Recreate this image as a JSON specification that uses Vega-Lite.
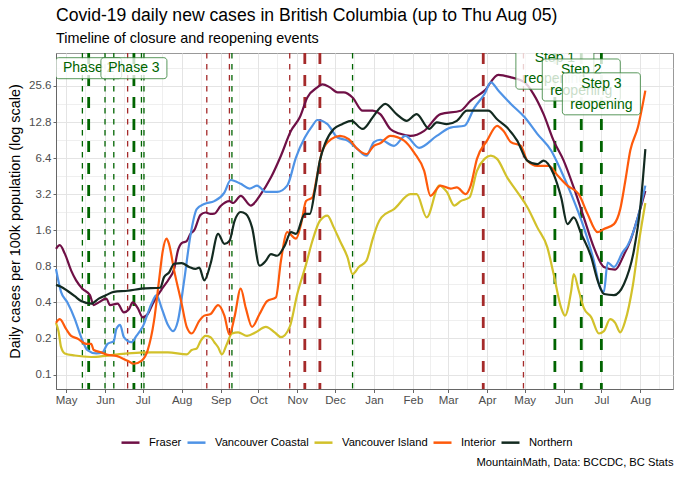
{
"$schema": "https://vega.github.io/schema/vega-lite/v6.json",
"padding": {"left": 6, "right": 8, "top": 6, "bottom": 10},
"background": "white",
"config": {
  "font": "Liberation Sans",
  "view": {"stroke": "#999999", "strokeWidth": 1},
  "axis": {"labelColor": "#4d4d4d", "labelFontSize": 11.5, "gridColor": "#e4e4e4", "domainColor": "#777777", "tickColor": "#777777"}
},
"title": {"text": "MountainMath, Data: BCCDC, BC Stats", "orient": "bottom", "anchor": "end", "fontSize": 11.2, "fontWeight": "normal", "color": "black", "offset": 9},
"datasets": {
  "events": [
    {"date": "2020-05-14", "type": "reopening", "size": "minor"},
    {"date": "2020-05-19", "type": "reopening", "size": "major"},
    {"date": "2020-06-01", "type": "reopening", "size": "minor"},
    {"date": "2020-06-08", "type": "reopening", "size": "minor"},
    {"date": "2020-06-19", "type": "closure", "size": "minor"},
    {"date": "2020-06-24", "type": "reopening", "size": "major"},
    {"date": "2020-06-30", "type": "reopening", "size": "minor"},
    {"date": "2020-07-02", "type": "reopening", "size": "minor"},
    {"date": "2020-08-21", "type": "closure", "size": "minor"},
    {"date": "2020-09-08", "type": "closure", "size": "minor"},
    {"date": "2020-09-10", "type": "reopening", "size": "minor"},
    {"date": "2020-10-26", "type": "closure", "size": "minor"},
    {"date": "2020-11-07", "type": "closure", "size": "major"},
    {"date": "2020-11-19", "type": "closure", "size": "major"},
    {"date": "2020-12-15", "type": "reopening", "size": "minor"},
    {"date": "2021-03-29", "type": "closure", "size": "major"},
    {"date": "2021-04-30", "type": "closure", "size": "minor"},
    {"date": "2021-05-25", "type": "reopening", "size": "major"},
    {"date": "2021-06-15", "type": "reopening", "size": "major"},
    {"date": "2021-07-01", "type": "reopening", "size": "major"}
  ],
  "labels": [
    {"id": 1, "date": "2020-05-19", "value": 36, "label": "Phase 2"},
    {"id": 2, "date": "2020-06-24", "value": 36, "label": "Phase 3"},
    {"id": 3, "date": "2021-05-25", "value": 36, "label": "Step 1\nreopening"},
    {"id": 4, "date": "2021-06-15", "value": 28.7, "label": "Step 2\nreopening"},
    {"id": 5, "date": "2021-07-01", "value": 22, "label": "Step 3\nreopening"}
  ],
  "cases": [
    {"date": "2020-04-23", "region": "Fraser", "value": 1.12},
    {"date": "2020-04-26", "region": "Fraser", "value": 1.2},
    {"date": "2020-04-30", "region": "Fraser", "value": 1.02},
    {"date": "2020-05-05", "region": "Fraser", "value": 0.74},
    {"date": "2020-05-09", "region": "Fraser", "value": 0.61},
    {"date": "2020-05-14", "region": "Fraser", "value": 0.52},
    {"date": "2020-05-20", "region": "Fraser", "value": 0.46},
    {"date": "2020-05-23", "region": "Fraser", "value": 0.38},
    {"date": "2020-05-27", "region": "Fraser", "value": 0.40},
    {"date": "2020-06-02", "region": "Fraser", "value": 0.43},
    {"date": "2020-06-05", "region": "Fraser", "value": 0.38},
    {"date": "2020-06-11", "region": "Fraser", "value": 0.39},
    {"date": "2020-06-16", "region": "Fraser", "value": 0.33},
    {"date": "2020-06-20", "region": "Fraser", "value": 0.35},
    {"date": "2020-06-23", "region": "Fraser", "value": 0.40},
    {"date": "2020-06-27", "region": "Fraser", "value": 0.36},
    {"date": "2020-07-01", "region": "Fraser", "value": 0.30},
    {"date": "2020-07-05", "region": "Fraser", "value": 0.32},
    {"date": "2020-07-09", "region": "Fraser", "value": 0.39},
    {"date": "2020-07-13", "region": "Fraser", "value": 0.46},
    {"date": "2020-07-17", "region": "Fraser", "value": 0.53},
    {"date": "2020-07-22", "region": "Fraser", "value": 0.63},
    {"date": "2020-07-26", "region": "Fraser", "value": 0.76},
    {"date": "2020-07-29", "region": "Fraser", "value": 1.08},
    {"date": "2020-08-01", "region": "Fraser", "value": 1.25},
    {"date": "2020-08-05", "region": "Fraser", "value": 1.3},
    {"date": "2020-08-08", "region": "Fraser", "value": 1.49},
    {"date": "2020-08-11", "region": "Fraser", "value": 1.6},
    {"date": "2020-08-16", "region": "Fraser", "value": 2.15},
    {"date": "2020-08-20", "region": "Fraser", "value": 2.25},
    {"date": "2020-08-24", "region": "Fraser", "value": 2.19},
    {"date": "2020-08-27", "region": "Fraser", "value": 2.2},
    {"date": "2020-09-01", "region": "Fraser", "value": 2.55},
    {"date": "2020-09-08", "region": "Fraser", "value": 2.8},
    {"date": "2020-09-11", "region": "Fraser", "value": 2.7},
    {"date": "2020-09-17", "region": "Fraser", "value": 3.1},
    {"date": "2020-09-25", "region": "Fraser", "value": 2.57},
    {"date": "2020-10-03", "region": "Fraser", "value": 3.2},
    {"date": "2020-10-11", "region": "Fraser", "value": 4.4},
    {"date": "2020-10-19", "region": "Fraser", "value": 6.7},
    {"date": "2020-10-27", "region": "Fraser", "value": 10.8},
    {"date": "2020-11-03", "region": "Fraser", "value": 14.0},
    {"date": "2020-11-09", "region": "Fraser", "value": 20.5},
    {"date": "2020-11-17", "region": "Fraser", "value": 24.9},
    {"date": "2020-11-21", "region": "Fraser", "value": 26.4},
    {"date": "2020-11-27", "region": "Fraser", "value": 24.9},
    {"date": "2020-12-03", "region": "Fraser", "value": 22.6},
    {"date": "2020-12-08", "region": "Fraser", "value": 22.6},
    {"date": "2020-12-15", "region": "Fraser", "value": 20.5},
    {"date": "2020-12-23", "region": "Fraser", "value": 15.9},
    {"date": "2020-12-31", "region": "Fraser", "value": 15.9},
    {"date": "2021-01-06", "region": "Fraser", "value": 14.9},
    {"date": "2021-01-14", "region": "Fraser", "value": 11.2},
    {"date": "2021-01-22", "region": "Fraser", "value": 10.2},
    {"date": "2021-01-30", "region": "Fraser", "value": 9.8},
    {"date": "2021-02-10", "region": "Fraser", "value": 10.8},
    {"date": "2021-02-23", "region": "Fraser", "value": 14.9},
    {"date": "2021-03-11", "region": "Fraser", "value": 15.9},
    {"date": "2021-03-19", "region": "Fraser", "value": 19.3},
    {"date": "2021-03-30", "region": "Fraser", "value": 23.4},
    {"date": "2021-04-10", "region": "Fraser", "value": 31.7},
    {"date": "2021-04-20", "region": "Fraser", "value": 30.2},
    {"date": "2021-05-01", "region": "Fraser", "value": 27.4},
    {"date": "2021-05-08", "region": "Fraser", "value": 21.9},
    {"date": "2021-05-16", "region": "Fraser", "value": 14.9},
    {"date": "2021-05-24", "region": "Fraser", "value": 8.95},
    {"date": "2021-06-01", "region": "Fraser", "value": 6.1},
    {"date": "2021-06-09", "region": "Fraser", "value": 3.64},
    {"date": "2021-06-17", "region": "Fraser", "value": 2.05},
    {"date": "2021-06-25", "region": "Fraser", "value": 1.15},
    {"date": "2021-07-03", "region": "Fraser", "value": 0.79},
    {"date": "2021-07-12", "region": "Fraser", "value": 0.75},
    {"date": "2021-07-19", "region": "Fraser", "value": 1.0},
    {"date": "2021-07-24", "region": "Fraser", "value": 1.3},
    {"date": "2021-07-30", "region": "Fraser", "value": 2.05},
    {"date": "2021-08-05", "region": "Fraser", "value": 3.4},

    {"date": "2020-04-23", "region": "Vancouver Coastal", "value": 0.76},
    {"date": "2020-04-27", "region": "Vancouver Coastal", "value": 0.49},
    {"date": "2020-05-02", "region": "Vancouver Coastal", "value": 0.40},
    {"date": "2020-05-08", "region": "Vancouver Coastal", "value": 0.29},
    {"date": "2020-05-13", "region": "Vancouver Coastal", "value": 0.205},
    {"date": "2020-05-18", "region": "Vancouver Coastal", "value": 0.16},
    {"date": "2020-05-25", "region": "Vancouver Coastal", "value": 0.15},
    {"date": "2020-05-30", "region": "Vancouver Coastal", "value": 0.153},
    {"date": "2020-06-03", "region": "Vancouver Coastal", "value": 0.18},
    {"date": "2020-06-08", "region": "Vancouver Coastal", "value": 0.19},
    {"date": "2020-06-10", "region": "Vancouver Coastal", "value": 0.24},
    {"date": "2020-06-13", "region": "Vancouver Coastal", "value": 0.26},
    {"date": "2020-06-16", "region": "Vancouver Coastal", "value": 0.205},
    {"date": "2020-06-22", "region": "Vancouver Coastal", "value": 0.186},
    {"date": "2020-06-26", "region": "Vancouver Coastal", "value": 0.21},
    {"date": "2020-07-01", "region": "Vancouver Coastal", "value": 0.25},
    {"date": "2020-07-08", "region": "Vancouver Coastal", "value": 0.39},
    {"date": "2020-07-12", "region": "Vancouver Coastal", "value": 0.46},
    {"date": "2020-07-16", "region": "Vancouver Coastal", "value": 0.36},
    {"date": "2020-07-21", "region": "Vancouver Coastal", "value": 0.26},
    {"date": "2020-07-25", "region": "Vancouver Coastal", "value": 0.23},
    {"date": "2020-07-29", "region": "Vancouver Coastal", "value": 0.28},
    {"date": "2020-08-03", "region": "Vancouver Coastal", "value": 0.61},
    {"date": "2020-08-08", "region": "Vancouver Coastal", "value": 1.45},
    {"date": "2020-08-13", "region": "Vancouver Coastal", "value": 2.4},
    {"date": "2020-08-19", "region": "Vancouver Coastal", "value": 2.65},
    {"date": "2020-08-27", "region": "Vancouver Coastal", "value": 2.8},
    {"date": "2020-09-04", "region": "Vancouver Coastal", "value": 3.3},
    {"date": "2020-09-09", "region": "Vancouver Coastal", "value": 4.2},
    {"date": "2020-09-17", "region": "Vancouver Coastal", "value": 3.9},
    {"date": "2020-09-24", "region": "Vancouver Coastal", "value": 3.56},
    {"date": "2020-09-30", "region": "Vancouver Coastal", "value": 3.77},
    {"date": "2020-10-07", "region": "Vancouver Coastal", "value": 3.34},
    {"date": "2020-10-16", "region": "Vancouver Coastal", "value": 3.34},
    {"date": "2020-10-24", "region": "Vancouver Coastal", "value": 3.77},
    {"date": "2020-10-31", "region": "Vancouver Coastal", "value": 6.5},
    {"date": "2020-11-07", "region": "Vancouver Coastal", "value": 9.5},
    {"date": "2020-11-13", "region": "Vancouver Coastal", "value": 11.9},
    {"date": "2020-11-17", "region": "Vancouver Coastal", "value": 13.3},
    {"date": "2020-11-25", "region": "Vancouver Coastal", "value": 12.3},
    {"date": "2020-12-03", "region": "Vancouver Coastal", "value": 9.5},
    {"date": "2020-12-11", "region": "Vancouver Coastal", "value": 8.95},
    {"date": "2020-12-19", "region": "Vancouver Coastal", "value": 7.6},
    {"date": "2020-12-26", "region": "Vancouver Coastal", "value": 6.7},
    {"date": "2021-01-01", "region": "Vancouver Coastal", "value": 8.7},
    {"date": "2021-01-06", "region": "Vancouver Coastal", "value": 9.1},
    {"date": "2021-01-17", "region": "Vancouver Coastal", "value": 8.1},
    {"date": "2021-01-26", "region": "Vancouver Coastal", "value": 9.8},
    {"date": "2021-02-06", "region": "Vancouver Coastal", "value": 7.8},
    {"date": "2021-02-20", "region": "Vancouver Coastal", "value": 9.8},
    {"date": "2021-03-03", "region": "Vancouver Coastal", "value": 11.5},
    {"date": "2021-03-14", "region": "Vancouver Coastal", "value": 11.9},
    {"date": "2021-03-22", "region": "Vancouver Coastal", "value": 16.9},
    {"date": "2021-03-30", "region": "Vancouver Coastal", "value": 21.9},
    {"date": "2021-04-04", "region": "Vancouver Coastal", "value": 27.4},
    {"date": "2021-04-10", "region": "Vancouver Coastal", "value": 23.4},
    {"date": "2021-04-20", "region": "Vancouver Coastal", "value": 18.1},
    {"date": "2021-05-01", "region": "Vancouver Coastal", "value": 14.0},
    {"date": "2021-05-11", "region": "Vancouver Coastal", "value": 10.2},
    {"date": "2021-05-22", "region": "Vancouver Coastal", "value": 7.4},
    {"date": "2021-05-30", "region": "Vancouver Coastal", "value": 5.0},
    {"date": "2021-06-07", "region": "Vancouver Coastal", "value": 3.2},
    {"date": "2021-06-17", "region": "Vancouver Coastal", "value": 1.69},
    {"date": "2021-06-25", "region": "Vancouver Coastal", "value": 0.89},
    {"date": "2021-06-30", "region": "Vancouver Coastal", "value": 0.53},
    {"date": "2021-07-03", "region": "Vancouver Coastal", "value": 0.49},
    {"date": "2021-07-06", "region": "Vancouver Coastal", "value": 0.86},
    {"date": "2021-07-11", "region": "Vancouver Coastal", "value": 0.79},
    {"date": "2021-07-18", "region": "Vancouver Coastal", "value": 1.05},
    {"date": "2021-07-22", "region": "Vancouver Coastal", "value": 1.2},
    {"date": "2021-07-30", "region": "Vancouver Coastal", "value": 2.05},
    {"date": "2021-08-05", "region": "Vancouver Coastal", "value": 3.77},

    {"date": "2020-04-23", "region": "Vancouver Island", "value": 0.27},
    {"date": "2020-04-25", "region": "Vancouver Island", "value": 0.23},
    {"date": "2020-04-27", "region": "Vancouver Island", "value": 0.17},
    {"date": "2020-04-30", "region": "Vancouver Island", "value": 0.15},
    {"date": "2020-05-08", "region": "Vancouver Island", "value": 0.144},
    {"date": "2020-05-21", "region": "Vancouver Island", "value": 0.14},
    {"date": "2020-06-03", "region": "Vancouver Island", "value": 0.144},
    {"date": "2020-06-19", "region": "Vancouver Island", "value": 0.15},
    {"date": "2020-07-08", "region": "Vancouver Island", "value": 0.153},
    {"date": "2020-07-21", "region": "Vancouver Island", "value": 0.153},
    {"date": "2020-08-05", "region": "Vancouver Island", "value": 0.147},
    {"date": "2020-08-09", "region": "Vancouver Island", "value": 0.16},
    {"date": "2020-08-13", "region": "Vancouver Island", "value": 0.165},
    {"date": "2020-08-16", "region": "Vancouver Island", "value": 0.19},
    {"date": "2020-08-20", "region": "Vancouver Island", "value": 0.21},
    {"date": "2020-08-24", "region": "Vancouver Island", "value": 0.205},
    {"date": "2020-08-27", "region": "Vancouver Island", "value": 0.186},
    {"date": "2020-08-30", "region": "Vancouver Island", "value": 0.169},
    {"date": "2020-09-02", "region": "Vancouver Island", "value": 0.147},
    {"date": "2020-09-06", "region": "Vancouver Island", "value": 0.18},
    {"date": "2020-09-10", "region": "Vancouver Island", "value": 0.22},
    {"date": "2020-09-15", "region": "Vancouver Island", "value": 0.225},
    {"date": "2020-09-22", "region": "Vancouver Island", "value": 0.21},
    {"date": "2020-09-29", "region": "Vancouver Island", "value": 0.225},
    {"date": "2020-10-07", "region": "Vancouver Island", "value": 0.25},
    {"date": "2020-10-14", "region": "Vancouver Island", "value": 0.225},
    {"date": "2020-10-19", "region": "Vancouver Island", "value": 0.205},
    {"date": "2020-10-26", "region": "Vancouver Island", "value": 0.25},
    {"date": "2020-11-01", "region": "Vancouver Island", "value": 0.47},
    {"date": "2020-11-08", "region": "Vancouver Island", "value": 0.83},
    {"date": "2020-11-13", "region": "Vancouver Island", "value": 1.3},
    {"date": "2020-11-19", "region": "Vancouver Island", "value": 1.92},
    {"date": "2020-11-25", "region": "Vancouver Island", "value": 2.12},
    {"date": "2020-11-30", "region": "Vancouver Island", "value": 1.69},
    {"date": "2020-12-05", "region": "Vancouver Island", "value": 1.3},
    {"date": "2020-12-11", "region": "Vancouver Island", "value": 0.95},
    {"date": "2020-12-15", "region": "Vancouver Island", "value": 0.69},
    {"date": "2020-12-20", "region": "Vancouver Island", "value": 0.79},
    {"date": "2020-12-26", "region": "Vancouver Island", "value": 0.89},
    {"date": "2020-12-31", "region": "Vancouver Island", "value": 1.35},
    {"date": "2021-01-04", "region": "Vancouver Island", "value": 1.8},
    {"date": "2021-01-07", "region": "Vancouver Island", "value": 2.05},
    {"date": "2021-01-17", "region": "Vancouver Island", "value": 2.4},
    {"date": "2021-01-30", "region": "Vancouver Island", "value": 3.2},
    {"date": "2021-02-04", "region": "Vancouver Island", "value": 3.2},
    {"date": "2021-02-12", "region": "Vancouver Island", "value": 2.05},
    {"date": "2021-02-22", "region": "Vancouver Island", "value": 3.77},
    {"date": "2021-02-28", "region": "Vancouver Island", "value": 3.34},
    {"date": "2021-03-06", "region": "Vancouver Island", "value": 2.57},
    {"date": "2021-03-11", "region": "Vancouver Island", "value": 2.8},
    {"date": "2021-03-18", "region": "Vancouver Island", "value": 3.0},
    {"date": "2021-03-24", "region": "Vancouver Island", "value": 5.0},
    {"date": "2021-03-30", "region": "Vancouver Island", "value": 6.3},
    {"date": "2021-04-04", "region": "Vancouver Island", "value": 6.7},
    {"date": "2021-04-09", "region": "Vancouver Island", "value": 6.3},
    {"date": "2021-04-17", "region": "Vancouver Island", "value": 4.42},
    {"date": "2021-04-25", "region": "Vancouver Island", "value": 3.34},
    {"date": "2021-05-03", "region": "Vancouver Island", "value": 2.5},
    {"date": "2021-05-11", "region": "Vancouver Island", "value": 1.69},
    {"date": "2021-05-19", "region": "Vancouver Island", "value": 1.15},
    {"date": "2021-05-24", "region": "Vancouver Island", "value": 0.69},
    {"date": "2021-05-30", "region": "Vancouver Island", "value": 0.36},
    {"date": "2021-06-02", "region": "Vancouver Island", "value": 0.31},
    {"date": "2021-06-07", "region": "Vancouver Island", "value": 0.5},
    {"date": "2021-06-09", "region": "Vancouver Island", "value": 0.69},
    {"date": "2021-06-13", "region": "Vancouver Island", "value": 0.5},
    {"date": "2021-06-17", "region": "Vancouver Island", "value": 0.36},
    {"date": "2021-06-23", "region": "Vancouver Island", "value": 0.3},
    {"date": "2021-06-29", "region": "Vancouver Island", "value": 0.22},
    {"date": "2021-07-03", "region": "Vancouver Island", "value": 0.23},
    {"date": "2021-07-08", "region": "Vancouver Island", "value": 0.29},
    {"date": "2021-07-12", "region": "Vancouver Island", "value": 0.27},
    {"date": "2021-07-16", "region": "Vancouver Island", "value": 0.225},
    {"date": "2021-07-20", "region": "Vancouver Island", "value": 0.28},
    {"date": "2021-07-26", "region": "Vancouver Island", "value": 0.55},
    {"date": "2021-07-31", "region": "Vancouver Island", "value": 1.3},
    {"date": "2021-08-05", "region": "Vancouver Island", "value": 2.7},

    {"date": "2020-04-23", "region": "Interior", "value": 0.27},
    {"date": "2020-04-26", "region": "Interior", "value": 0.29},
    {"date": "2020-05-01", "region": "Interior", "value": 0.24},
    {"date": "2020-05-05", "region": "Interior", "value": 0.21},
    {"date": "2020-05-10", "region": "Interior", "value": 0.20},
    {"date": "2020-05-17", "region": "Interior", "value": 0.18},
    {"date": "2020-05-21", "region": "Interior", "value": 0.18},
    {"date": "2020-05-23", "region": "Interior", "value": 0.16},
    {"date": "2020-05-29", "region": "Interior", "value": 0.153},
    {"date": "2020-06-03", "region": "Interior", "value": 0.146},
    {"date": "2020-06-10", "region": "Interior", "value": 0.143},
    {"date": "2020-06-19", "region": "Interior", "value": 0.13},
    {"date": "2020-06-24", "region": "Interior", "value": 0.123},
    {"date": "2020-06-30", "region": "Interior", "value": 0.13},
    {"date": "2020-07-05", "region": "Interior", "value": 0.16},
    {"date": "2020-07-10", "region": "Interior", "value": 0.28},
    {"date": "2020-07-14", "region": "Interior", "value": 0.61},
    {"date": "2020-07-17", "region": "Interior", "value": 1.08},
    {"date": "2020-07-20", "region": "Interior", "value": 1.36},
    {"date": "2020-07-22", "region": "Interior", "value": 1.22},
    {"date": "2020-07-26", "region": "Interior", "value": 0.74},
    {"date": "2020-08-01", "region": "Interior", "value": 0.39},
    {"date": "2020-08-05", "region": "Interior", "value": 0.25},
    {"date": "2020-08-09", "region": "Interior", "value": 0.22},
    {"date": "2020-08-15", "region": "Interior", "value": 0.28},
    {"date": "2020-08-19", "region": "Interior", "value": 0.31},
    {"date": "2020-08-24", "region": "Interior", "value": 0.32},
    {"date": "2020-08-30", "region": "Interior", "value": 0.38},
    {"date": "2020-09-04", "region": "Interior", "value": 0.31},
    {"date": "2020-09-08", "region": "Interior", "value": 0.215},
    {"date": "2020-09-12", "region": "Interior", "value": 0.30},
    {"date": "2020-09-17", "region": "Interior", "value": 0.52},
    {"date": "2020-09-21", "region": "Interior", "value": 0.36},
    {"date": "2020-09-26", "region": "Interior", "value": 0.25},
    {"date": "2020-10-02", "region": "Interior", "value": 0.32},
    {"date": "2020-10-08", "region": "Interior", "value": 0.41},
    {"date": "2020-10-15", "region": "Interior", "value": 0.44},
    {"date": "2020-10-19", "region": "Interior", "value": 0.89},
    {"date": "2020-10-24", "region": "Interior", "value": 1.54},
    {"date": "2020-10-31", "region": "Interior", "value": 1.36},
    {"date": "2020-11-04", "region": "Interior", "value": 1.8},
    {"date": "2020-11-08", "region": "Interior", "value": 2.8},
    {"date": "2020-11-13", "region": "Interior", "value": 3.0},
    {"date": "2020-11-17", "region": "Interior", "value": 4.7},
    {"date": "2020-11-21", "region": "Interior", "value": 7.4},
    {"date": "2020-11-28", "region": "Interior", "value": 9.2},
    {"date": "2020-12-05", "region": "Interior", "value": 9.8},
    {"date": "2020-12-12", "region": "Interior", "value": 9.2},
    {"date": "2020-12-19", "region": "Interior", "value": 7.6},
    {"date": "2020-12-26", "region": "Interior", "value": 6.9},
    {"date": "2021-01-01", "region": "Interior", "value": 8.1},
    {"date": "2021-01-06", "region": "Interior", "value": 8.5},
    {"date": "2021-01-14", "region": "Interior", "value": 9.8},
    {"date": "2021-01-25", "region": "Interior", "value": 8.95},
    {"date": "2021-02-02", "region": "Interior", "value": 7.1},
    {"date": "2021-02-10", "region": "Interior", "value": 5.0},
    {"date": "2021-02-15", "region": "Interior", "value": 3.1},
    {"date": "2021-02-23", "region": "Interior", "value": 3.77},
    {"date": "2021-03-03", "region": "Interior", "value": 3.56},
    {"date": "2021-03-08", "region": "Interior", "value": 3.64},
    {"date": "2021-03-15", "region": "Interior", "value": 3.2},
    {"date": "2021-03-19", "region": "Interior", "value": 3.77},
    {"date": "2021-03-24", "region": "Interior", "value": 6.3},
    {"date": "2021-04-01", "region": "Interior", "value": 8.95},
    {"date": "2021-04-09", "region": "Interior", "value": 11.9},
    {"date": "2021-04-14", "region": "Interior", "value": 10.8},
    {"date": "2021-04-20", "region": "Interior", "value": 8.7},
    {"date": "2021-04-28", "region": "Interior", "value": 8.1},
    {"date": "2021-05-03", "region": "Interior", "value": 6.1},
    {"date": "2021-05-11", "region": "Interior", "value": 5.5},
    {"date": "2021-05-20", "region": "Interior", "value": 5.5},
    {"date": "2021-05-27", "region": "Interior", "value": 4.6},
    {"date": "2021-06-04", "region": "Interior", "value": 3.77},
    {"date": "2021-06-13", "region": "Interior", "value": 3.2},
    {"date": "2021-06-20", "region": "Interior", "value": 2.19},
    {"date": "2021-06-28", "region": "Interior", "value": 1.54},
    {"date": "2021-07-03", "region": "Interior", "value": 1.64},
    {"date": "2021-07-11", "region": "Interior", "value": 1.8},
    {"date": "2021-07-16", "region": "Interior", "value": 2.4},
    {"date": "2021-07-20", "region": "Interior", "value": 4.1},
    {"date": "2021-07-24", "region": "Interior", "value": 7.4},
    {"date": "2021-07-30", "region": "Interior", "value": 11.5},
    {"date": "2021-08-05", "region": "Interior", "value": 23.4},

    {"date": "2020-04-23", "region": "Northern", "value": 0.56},
    {"date": "2020-04-27", "region": "Northern", "value": 0.54},
    {"date": "2020-05-02", "region": "Northern", "value": 0.50},
    {"date": "2020-05-08", "region": "Northern", "value": 0.45},
    {"date": "2020-05-13", "region": "Northern", "value": 0.41},
    {"date": "2020-05-21", "region": "Northern", "value": 0.39},
    {"date": "2020-05-27", "region": "Northern", "value": 0.43},
    {"date": "2020-06-02", "region": "Northern", "value": 0.46},
    {"date": "2020-06-08", "region": "Northern", "value": 0.49},
    {"date": "2020-06-19", "region": "Northern", "value": 0.50},
    {"date": "2020-06-30", "region": "Northern", "value": 0.52},
    {"date": "2020-07-15", "region": "Northern", "value": 0.53},
    {"date": "2020-07-18", "region": "Northern", "value": 0.65},
    {"date": "2020-07-22", "region": "Northern", "value": 0.71},
    {"date": "2020-07-26", "region": "Northern", "value": 0.84},
    {"date": "2020-08-01", "region": "Northern", "value": 0.85},
    {"date": "2020-08-07", "region": "Northern", "value": 0.79},
    {"date": "2020-08-12", "region": "Northern", "value": 0.76},
    {"date": "2020-08-15", "region": "Northern", "value": 0.78},
    {"date": "2020-08-19", "region": "Northern", "value": 0.61},
    {"date": "2020-08-24", "region": "Northern", "value": 0.84},
    {"date": "2020-08-30", "region": "Northern", "value": 1.49},
    {"date": "2020-09-04", "region": "Northern", "value": 1.23},
    {"date": "2020-09-08", "region": "Northern", "value": 1.30},
    {"date": "2020-09-12", "region": "Northern", "value": 1.9},
    {"date": "2020-09-17", "region": "Northern", "value": 2.27},
    {"date": "2020-09-21", "region": "Northern", "value": 2.19},
    {"date": "2020-09-26", "region": "Northern", "value": 1.69},
    {"date": "2020-10-02", "region": "Northern", "value": 0.81},
    {"date": "2020-10-07", "region": "Northern", "value": 0.89},
    {"date": "2020-10-11", "region": "Northern", "value": 1.01},
    {"date": "2020-10-16", "region": "Northern", "value": 0.98},
    {"date": "2020-10-22", "region": "Northern", "value": 1.19},
    {"date": "2020-10-27", "region": "Northern", "value": 1.54},
    {"date": "2020-10-31", "region": "Northern", "value": 1.49},
    {"date": "2020-11-07", "region": "Northern", "value": 2.19},
    {"date": "2020-11-11", "region": "Northern", "value": 2.19},
    {"date": "2020-11-15", "region": "Northern", "value": 3.43},
    {"date": "2020-11-19", "region": "Northern", "value": 6.1},
    {"date": "2020-11-23", "region": "Northern", "value": 8.4},
    {"date": "2020-11-30", "region": "Northern", "value": 11.2},
    {"date": "2020-12-07", "region": "Northern", "value": 12.3},
    {"date": "2020-12-14", "region": "Northern", "value": 13.1},
    {"date": "2020-12-23", "region": "Northern", "value": 11.2},
    {"date": "2020-12-31", "region": "Northern", "value": 14.0},
    {"date": "2021-01-06", "region": "Northern", "value": 16.9},
    {"date": "2021-01-10", "region": "Northern", "value": 18.1},
    {"date": "2021-01-19", "region": "Northern", "value": 14.9},
    {"date": "2021-01-27", "region": "Northern", "value": 13.1},
    {"date": "2021-02-04", "region": "Northern", "value": 14.9},
    {"date": "2021-02-14", "region": "Northern", "value": 11.2},
    {"date": "2021-02-20", "region": "Northern", "value": 12.7},
    {"date": "2021-02-28", "region": "Northern", "value": 12.3},
    {"date": "2021-03-08", "region": "Northern", "value": 13.1},
    {"date": "2021-03-16", "region": "Northern", "value": 15.9},
    {"date": "2021-03-27", "region": "Northern", "value": 15.9},
    {"date": "2021-04-02", "region": "Northern", "value": 15.9},
    {"date": "2021-04-09", "region": "Northern", "value": 13.5},
    {"date": "2021-04-17", "region": "Northern", "value": 11.5},
    {"date": "2021-04-25", "region": "Northern", "value": 8.95},
    {"date": "2021-05-03", "region": "Northern", "value": 6.1},
    {"date": "2021-05-11", "region": "Northern", "value": 5.7},
    {"date": "2021-05-16", "region": "Northern", "value": 6.1},
    {"date": "2021-05-24", "region": "Northern", "value": 4.7},
    {"date": "2021-05-30", "region": "Northern", "value": 3.0},
    {"date": "2021-06-04", "region": "Northern", "value": 1.8},
    {"date": "2021-06-09", "region": "Northern", "value": 2.05},
    {"date": "2021-06-15", "region": "Northern", "value": 1.49},
    {"date": "2021-06-23", "region": "Northern", "value": 0.95},
    {"date": "2021-06-28", "region": "Northern", "value": 0.61},
    {"date": "2021-07-03", "region": "Northern", "value": 0.47},
    {"date": "2021-07-11", "region": "Northern", "value": 0.46},
    {"date": "2021-07-19", "region": "Northern", "value": 0.57},
    {"date": "2021-07-27", "region": "Northern", "value": 1.1},
    {"date": "2021-08-01", "region": "Northern", "value": 2.5},
    {"date": "2021-08-05", "region": "Northern", "value": 7.6}
  ]
},
"vconcat": [{
  "title": {"text": "Covid-19 daily new cases in British Columbia (up to Thu Aug 05)", "subtitle": "Timeline of closure and reopening events", "anchor": "start", "frame": "group", "fontSize": 17.6, "fontWeight": "normal", "color": "black", "subtitleFontSize": 14.4, "subtitleColor": "black", "subtitlePadding": 7.7, "offset": 6},
  "width": 617,
  "height": 336,
  "encoding": {
    "x": {"field": "date", "type": "temporal",
      "scale": {"type": "utc", "domain": [{"year": 2020, "month": 4, "date": 23, "utc": true}, {"year": 2021, "month": 8, "date": 27, "utc": true}]},
      "axis": {"title": null, "grid": true,
        "values": [
          {"year": 2020, "month": 5, "date": 1, "utc": true}, {"year": 2020, "month": 5, "date": 16, "utc": true},
          {"year": 2020, "month": 6, "date": 1, "utc": true}, {"year": 2020, "month": 6, "date": 16, "utc": true},
          {"year": 2020, "month": 7, "date": 1, "utc": true}, {"year": 2020, "month": 7, "date": 16, "utc": true},
          {"year": 2020, "month": 8, "date": 1, "utc": true}, {"year": 2020, "month": 8, "date": 16, "utc": true},
          {"year": 2020, "month": 9, "date": 1, "utc": true}, {"year": 2020, "month": 9, "date": 16, "utc": true},
          {"year": 2020, "month": 10, "date": 1, "utc": true}, {"year": 2020, "month": 10, "date": 16, "utc": true},
          {"year": 2020, "month": 11, "date": 1, "utc": true}, {"year": 2020, "month": 11, "date": 16, "utc": true},
          {"year": 2020, "month": 12, "date": 1, "utc": true}, {"year": 2020, "month": 12, "date": 16, "utc": true},
          {"year": 2021, "month": 1, "date": 1, "utc": true}, {"year": 2021, "month": 1, "date": 16, "utc": true},
          {"year": 2021, "month": 2, "date": 1, "utc": true}, {"year": 2021, "month": 2, "date": 15, "utc": true},
          {"year": 2021, "month": 3, "date": 1, "utc": true}, {"year": 2021, "month": 3, "date": 16, "utc": true},
          {"year": 2021, "month": 4, "date": 1, "utc": true}, {"year": 2021, "month": 4, "date": 16, "utc": true},
          {"year": 2021, "month": 5, "date": 1, "utc": true}, {"year": 2021, "month": 5, "date": 16, "utc": true},
          {"year": 2021, "month": 6, "date": 1, "utc": true}, {"year": 2021, "month": 6, "date": 16, "utc": true},
          {"year": 2021, "month": 7, "date": 1, "utc": true}, {"year": 2021, "month": 7, "date": 16, "utc": true},
          {"year": 2021, "month": 8, "date": 1, "utc": true}, {"year": 2021, "month": 8, "date": 16, "utc": true}
        ],
        "labelExpr": "utcdate(datum.value) == 1 ? utcFormat(datum.value, '%b') : ''",
        "gridWidth": {"condition": {"test": "utcdate(datum.value) == 1", "value": 1}, "value": 0.6},
        "tickOpacity": {"condition": {"test": "utcdate(datum.value) == 1", "value": 1}, "value": 0},
        "tickSize": 3.5, "labelPadding": 2, "labelOverlap": false, "labelFlush": false,
        "domainColor": "#666666", "tickColor": "#666666"
      }
    }
  },
  "layer": [
    {
      "data": {"name": "events"},
      "mark": {"type": "rule"},
      "encoding": {
        "color": {"condition": {"test": "datum.type == 'closure'", "value": "#a52a2a"}, "value": "#006400"},
        "strokeWidth": {"condition": {"test": "datum.size == 'major'", "value": 2.8}, "value": 1.3},
        "strokeDash": {"condition": {"test": "datum.size == 'major'", "value": [11, 11]}, "value": [5.5, 5.5]}
      }
    },
    {
      "data": {"name": "cases"},
      "mark": {"type": "line", "strokeWidth": 2.2, "interpolate": "monotone"},
      "encoding": {
        "y": {"field": "value", "type": "quantitative",
          "scale": {"type": "log", "base": 2, "domain": [0.0757, 48.2], "nice": false},
          "axis": {"title": "Daily cases per 100k population (log scale)", "titleFontSize": 14.4, "titleFontWeight": "normal", "titleColor": "black", "titlePadding": 6.5,
            "values": [0.1, 0.1414, 0.2, 0.2828, 0.4, 0.5657, 0.8, 1.1314, 1.6, 2.2627, 3.2, 4.5255, 6.4, 9.051, 12.8, 18.102, 25.6, 36.204],
            "labelExpr": "indexof([0.1,0.2,0.4,0.8,1.6,3.2,6.4,12.8,25.6], datum.value) >= 0 ? format(datum.value, '.1f') : ''",
            "gridWidth": {"condition": {"test": "indexof([0.1,0.2,0.4,0.8,1.6,3.2,6.4,12.8,25.6], datum.value) >= 0", "value": 1}, "value": 0.6},
            "tickOpacity": {"condition": {"test": "indexof([0.1,0.2,0.4,0.8,1.6,3.2,6.4,12.8,25.6], datum.value) >= 0", "value": 1}, "value": 0},
            "tickSize": 3, "labelPadding": 2, "labelOverlap": false, "labelFlush": false,
            "domainColor": "#666666", "tickColor": "#666666"}
        },
        "color": {"field": "region", "type": "nominal",
          "scale": {"domain": ["Fraser", "Vancouver Coastal", "Vancouver Island", "Interior", "Northern"], "range": ["#6f1046", "#4f93e6", "#d2c12a", "#fe5a0b", "#132a20"]},
          "legend": {"title": null, "orient": "none", "legendX": 64, "legendY": 379, "direction": "horizontal", "symbolType": "stroke", "symbolStrokeWidth": 2.5, "symbolSize": 324, "labelFontSize": 11.2, "labelColor": "black", "labelOffset": 8, "columnPadding": 0, "padding": 0}
        }
      }
    },
    {"data": {"name": "labels"}, "transform": [{"filter": "datum.id == 1"}],
     "mark": {"type": "rect", "clip": true, "fill": "white", "fillOpacity": 0.78, "stroke": "#2e7d32", "strokeWidth": 0.8, "cornerRadius": 3, "xOffset": -33, "x2Offset": 33, "yOffset": -10.5, "y2Offset": 10.5},
     "encoding": {"x2": {"field": "date"}, "y": {"field": "value", "type": "quantitative", "scale": {"type": "log", "base": 2, "domain": [0.0757, 48.2], "nice": false}}, "y2": {"field": "value"}}},
    {"data": {"name": "labels"}, "transform": [{"filter": "datum.id == 1"}],
     "mark": {"type": "text", "clip": true, "fontSize": 14, "color": "#006400", "align": "center", "baseline": "middle"},
     "encoding": {"y": {"field": "value", "type": "quantitative", "scale": {"type": "log", "base": 2, "domain": [0.0757, 48.2], "nice": false}}, "text": {"field": "label"}}},
    {"data": {"name": "labels"}, "transform": [{"filter": "datum.id == 2"}],
     "mark": {"type": "rect", "clip": true, "fill": "white", "fillOpacity": 0.78, "stroke": "#2e7d32", "strokeWidth": 0.8, "cornerRadius": 3, "xOffset": -33, "x2Offset": 33, "yOffset": -10.5, "y2Offset": 10.5},
     "encoding": {"x2": {"field": "date"}, "y": {"field": "value", "type": "quantitative", "scale": {"type": "log", "base": 2, "domain": [0.0757, 48.2], "nice": false}}, "y2": {"field": "value"}}},
    {"data": {"name": "labels"}, "transform": [{"filter": "datum.id == 2"}],
     "mark": {"type": "text", "clip": true, "fontSize": 14, "color": "#006400", "align": "center", "baseline": "middle"},
     "encoding": {"y": {"field": "value", "type": "quantitative", "scale": {"type": "log", "base": 2, "domain": [0.0757, 48.2], "nice": false}}, "text": {"field": "label"}}},
    {"data": {"name": "labels"}, "transform": [{"filter": "datum.id == 3"}],
     "mark": {"type": "rect", "clip": true, "fill": "white", "fillOpacity": 0.78, "stroke": "#2e7d32", "strokeWidth": 0.8, "cornerRadius": 3, "xOffset": -39, "x2Offset": 39, "yOffset": -21, "y2Offset": 21},
     "encoding": {"x2": {"field": "date"}, "y": {"field": "value", "type": "quantitative", "scale": {"type": "log", "base": 2, "domain": [0.0757, 48.2], "nice": false}}, "y2": {"field": "value"}}},
    {"data": {"name": "labels"}, "transform": [{"filter": "datum.id == 3"}],
     "mark": {"type": "text", "clip": true, "fontSize": 14, "color": "#006400", "align": "center", "baseline": "middle", "lineBreak": "\n", "lineHeight": 21, "dy": -10},
     "encoding": {"y": {"field": "value", "type": "quantitative", "scale": {"type": "log", "base": 2, "domain": [0.0757, 48.2], "nice": false}}, "text": {"field": "label"}}},
    {"data": {"name": "labels"}, "transform": [{"filter": "datum.id == 4"}],
     "mark": {"type": "rect", "clip": true, "fill": "white", "fillOpacity": 0.78, "stroke": "#2e7d32", "strokeWidth": 0.8, "cornerRadius": 3, "xOffset": -39, "x2Offset": 39, "yOffset": -21, "y2Offset": 21},
     "encoding": {"x2": {"field": "date"}, "y": {"field": "value", "type": "quantitative", "scale": {"type": "log", "base": 2, "domain": [0.0757, 48.2], "nice": false}}, "y2": {"field": "value"}}},
    {"data": {"name": "labels"}, "transform": [{"filter": "datum.id == 4"}],
     "mark": {"type": "text", "clip": true, "fontSize": 14, "color": "#006400", "align": "center", "baseline": "middle", "lineBreak": "\n", "lineHeight": 21, "dy": -10},
     "encoding": {"y": {"field": "value", "type": "quantitative", "scale": {"type": "log", "base": 2, "domain": [0.0757, 48.2], "nice": false}}, "text": {"field": "label"}}},
    {"data": {"name": "labels"}, "transform": [{"filter": "datum.id == 5"}],
     "mark": {"type": "rect", "clip": true, "fill": "white", "fillOpacity": 0.78, "stroke": "#2e7d32", "strokeWidth": 0.8, "cornerRadius": 3, "xOffset": -39, "x2Offset": 39, "yOffset": -21, "y2Offset": 21},
     "encoding": {"x2": {"field": "date"}, "y": {"field": "value", "type": "quantitative", "scale": {"type": "log", "base": 2, "domain": [0.0757, 48.2], "nice": false}}, "y2": {"field": "value"}}},
    {"data": {"name": "labels"}, "transform": [{"filter": "datum.id == 5"}],
     "mark": {"type": "text", "clip": true, "fontSize": 14, "color": "#006400", "align": "center", "baseline": "middle", "lineBreak": "\n", "lineHeight": 21, "dy": -10},
     "encoding": {"y": {"field": "value", "type": "quantitative", "scale": {"type": "log", "base": 2, "domain": [0.0757, 48.2], "nice": false}}, "text": {"field": "label"}}}
  ]
}]
}
